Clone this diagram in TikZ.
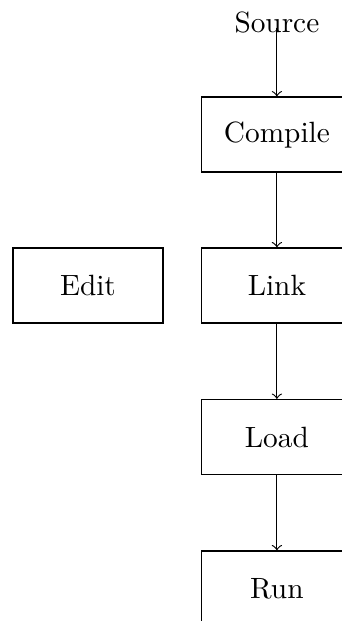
\documentclass[tikz,border=0pt]{standalone}
\usepackage{tikz}
\usetikzlibrary{positioning}

\begin{document}
\begin{tikzpicture}[
    stage/.style={draw, align=center, minimum width=18mm, minimum height=9mm},
    flow/.style={->}
]
\useasboundingbox (0,0) rectangle (4.10,-7.446);

% ---------- input ----------
\node (source) at (3.32,-0.264) {Source};
\coordinate (srcpt) at (3.32,-0.336);

% ---------- main chain ----------
\node[stage] (compile) at (3.32,-1.613) {Compile};
\node[stage] (link) at (3.32,-3.423) {Link};
\node[stage] (load) at (3.32,-5.240) {Load};
\node[stage] (run) at (3.32,-7.056) {Run};

% ---------- side ----------
\node[stage] (edit) at (1.055,-3.423) {Edit};

\draw[flow] (srcpt) -- (compile);
\draw[flow] (compile) -- (link);
\draw[flow] (link) -- (load);
\draw[flow] (load) -- (run);

\end{tikzpicture}
\end{document}
